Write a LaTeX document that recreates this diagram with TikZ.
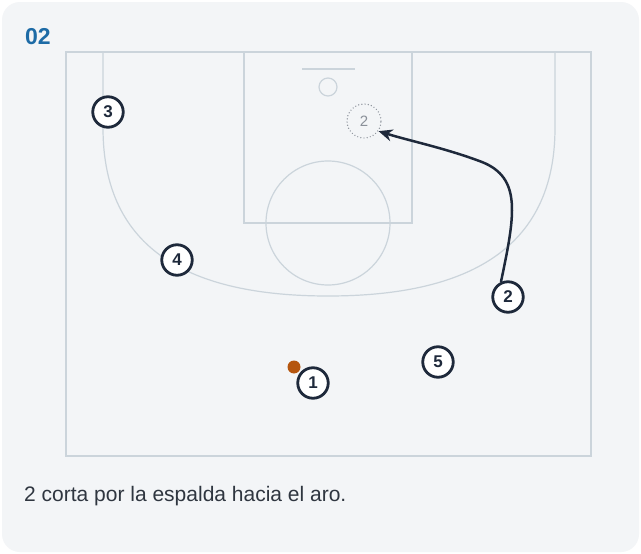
\documentclass[tikz,border=0pt]{standalone}
\usepackage{fontspec}
\setmainfont{Liberation Sans}
\usepackage{tikz}
\usetikzlibrary{arrows.meta}

\definecolor{cardbg}{HTML}{F3F5F7}
\definecolor{courtline}{HTML}{CBD4DB}
\definecolor{navy}{HTML}{1E293B}
\definecolor{titleblue}{HTML}{1D6BA6}
\definecolor{ballorange}{HTML}{B5560F}
\definecolor{ghostgrey}{HTML}{8A9099}
\definecolor{captiongrey}{HTML}{2F3640}

\tikzset{
    court/.style={draw=courtline, line width=1.2pt},
    player/.style={circle, draw=navy, line width=2.8pt, fill=white, minimum size=30.5pt, inner sep=0pt,
        font=\fontsize{17}{17}\selectfont\bfseries, text=navy},
    ghost/.style={circle, draw=ghostgrey, line width=1.4pt, line cap=round, dash pattern=on 0pt off 3.2pt,
        minimum size=34pt, inner sep=0pt, font=\fontsize{15}{15}\selectfont, text=ghostgrey},
    cut/.style={draw=navy, line width=2.5pt, -{Stealth[length=14pt,width=12pt]}}
}

\begin{document}
\begin{tikzpicture}[x=1pt, y=-1pt]
    \useasboundingbox (0,0) rectangle (641,554);
    % card
    \fill[white] (0,0) rectangle (641,554);
    \fill[cardbg, rounded corners=18pt] (2,2) rectangle (639,552);

    % court
    \draw[court] (66,52) rectangle (591,456);
    \draw[court] (244,52) rectangle (412,223);
    \draw[court] (328,223) circle (62);
    \draw[court] (302,69) -- (355,69);
    \draw[court] (328,87) circle (9);
    % three point line
    \draw[court] (103,52) -- (103,128) .. controls (103,250) and (190,296) .. (328,296)
        .. controls (466,296) and (555,250) .. (555,128) -- (555,52);

    % title
    \node[anchor=base west, inner sep=0pt, text=titleblue, font=\fontsize{23}{23}\selectfont\bfseries] (title) at (25,45) {02};

    % players
    \node[player] (p3) at (108,112) {3};
    \node[player] (p4) at (177,260) {4};
    \node[player] (p2) at (508,297) {2};
    \node[player] (p5) at (438,362) {5};
    \node[player] (p1) at (313,383) {1};
    \node[ghost] (g2) at (364,121) {2};
    \fill[ballorange] (294,367) circle (6.5);

    % cut to the basket
    \draw[cut] (p2.115) .. controls (515,215) and (522,178) .. (482,162)
        .. controls (445,148) and (410,141) .. (g2.-35);

    % caption
    \node[anchor=base west, inner sep=0pt, text=captiongrey, font=\fontsize{21}{24}\selectfont] (caption) at (24,501)
        {2 corta por la espalda hacia el aro.};
\end{tikzpicture}
\end{document}
